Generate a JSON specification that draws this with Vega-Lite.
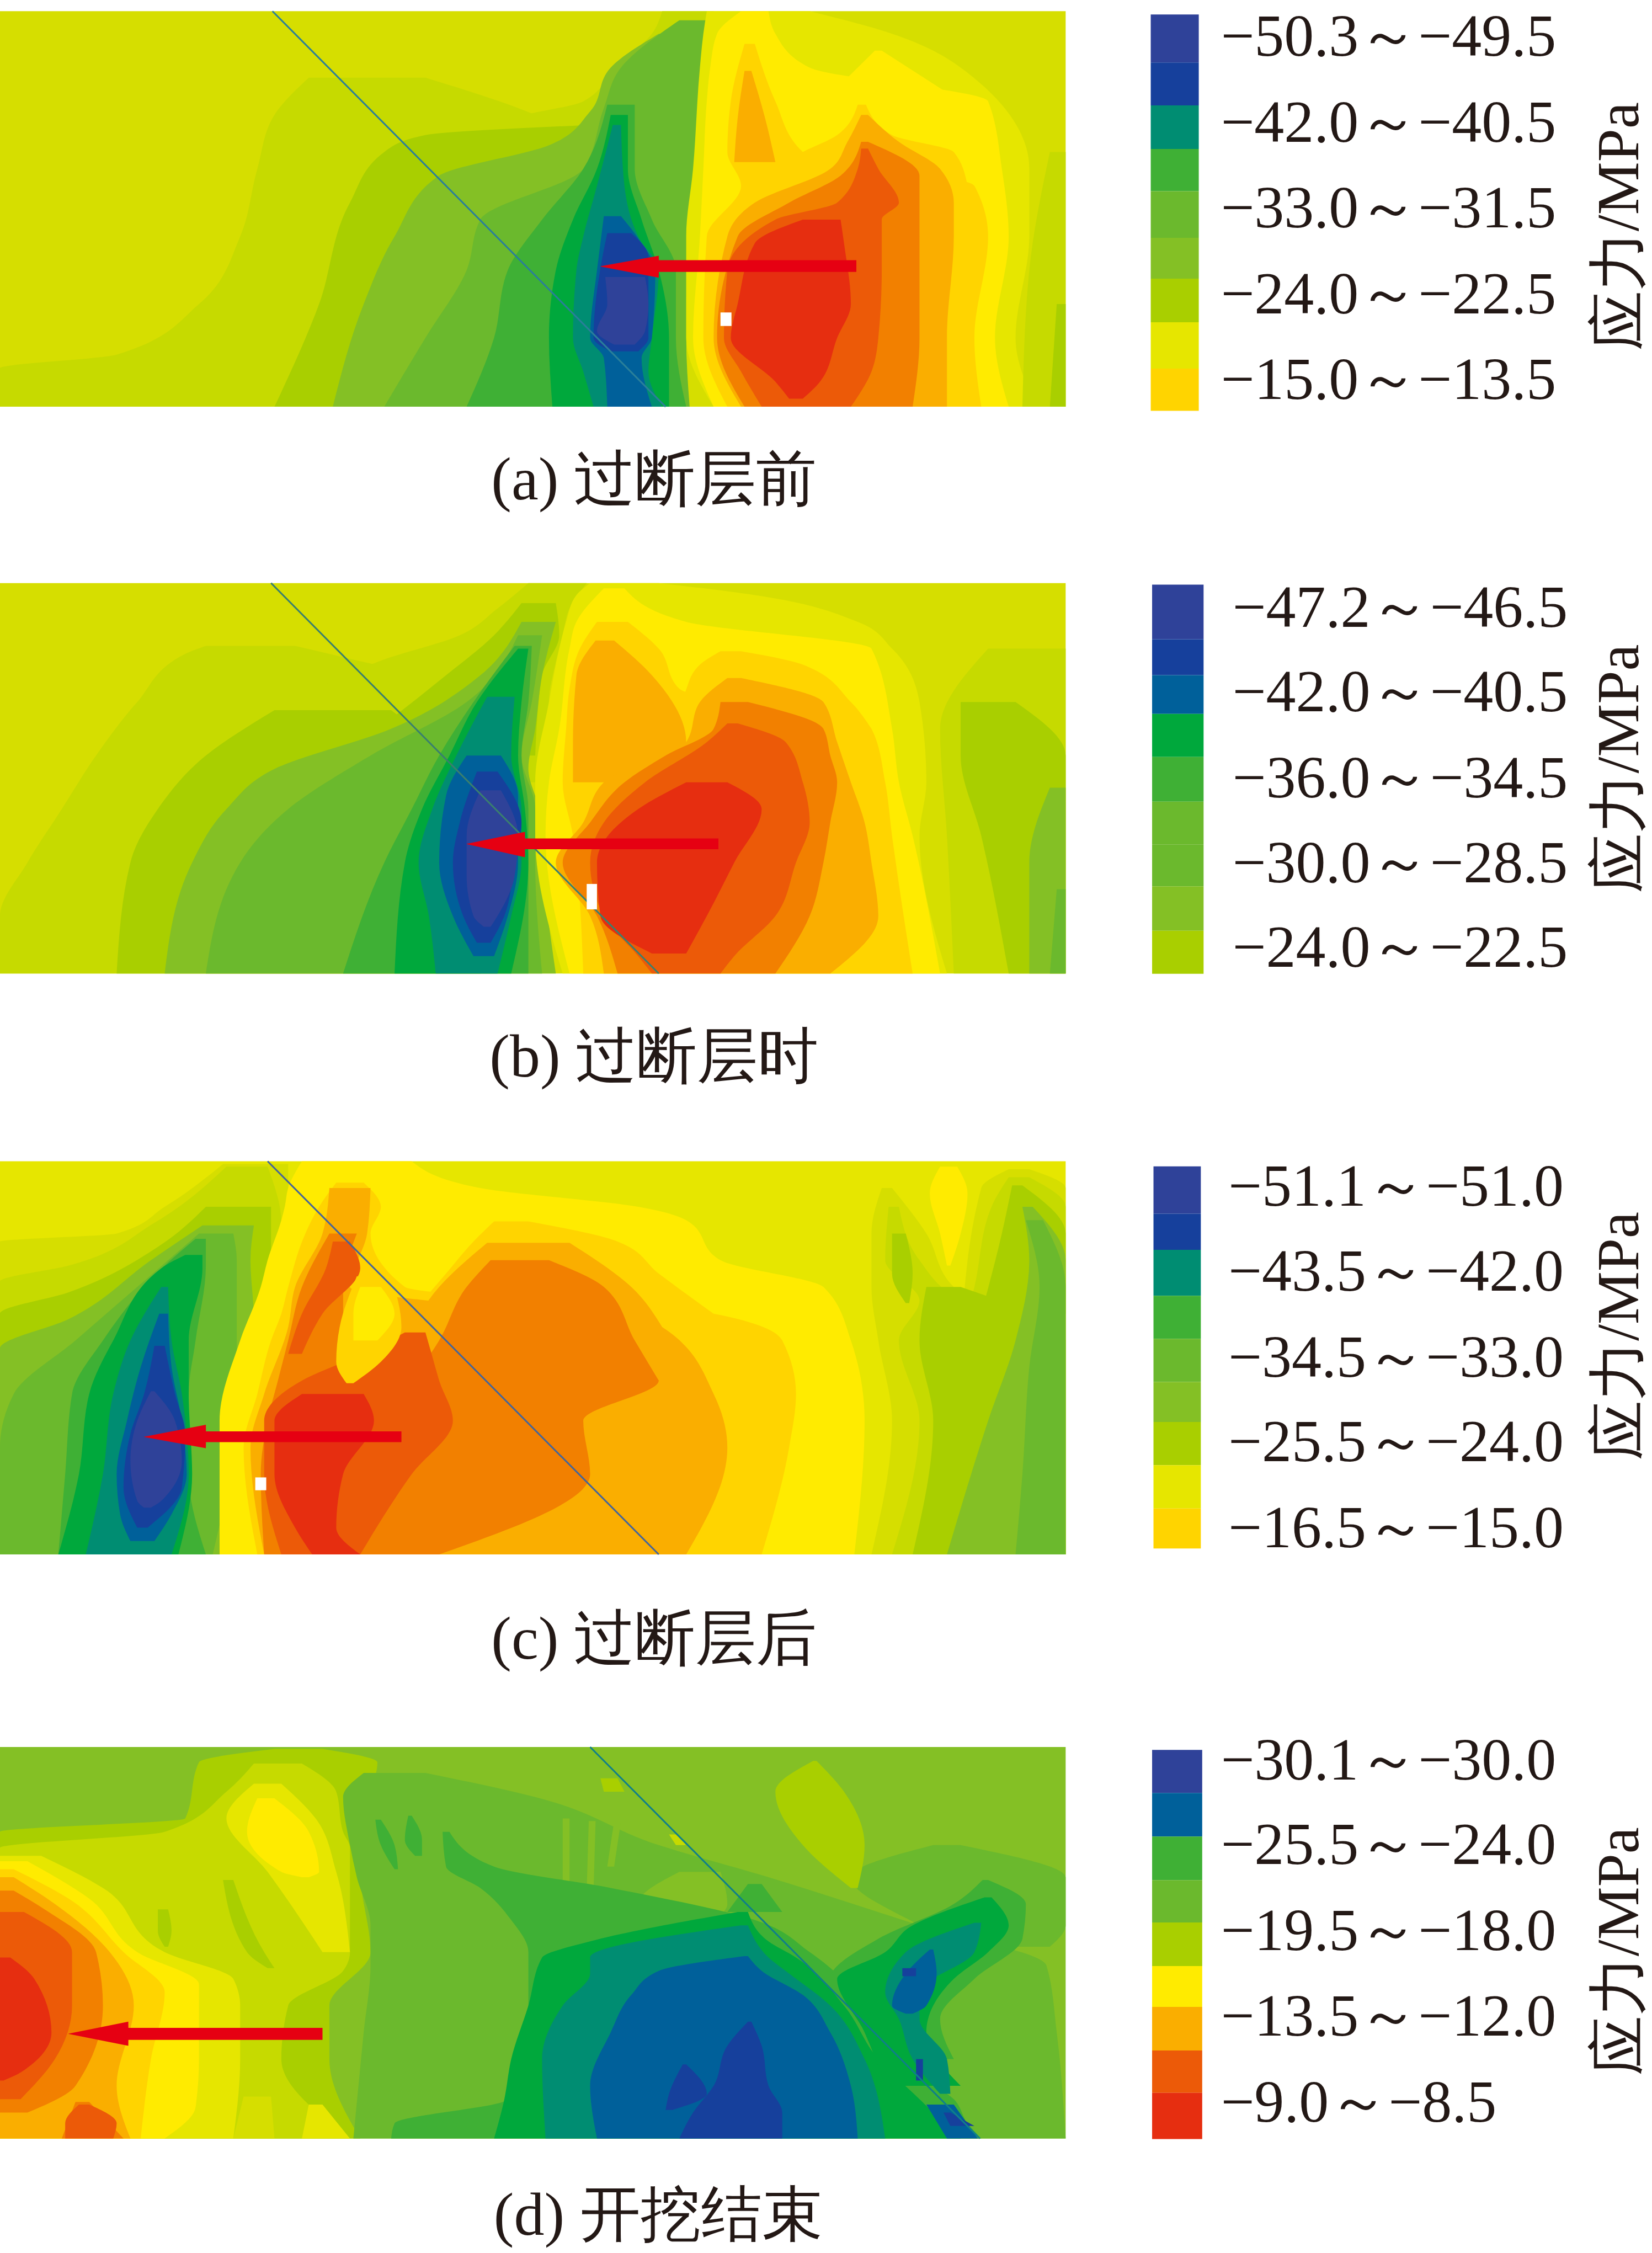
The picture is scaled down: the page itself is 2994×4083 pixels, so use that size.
{"$schema":"https://vega.github.io/schema/vega-lite/v6.json","padding":0,"background":"white","bounds":"flush","spacing":0,"resolve":{"scale":{"color":"shared"}},
"config":{"view":{"stroke":null},"axis":{"disable":true},"legend":{"disable":true},"range":{"ordinal":["#2F4299","#16409C","#00609A","#008D72","#00A83C","#3FB035","#6BB92D","#84C025","#A9CF00","#C6DA00","#D6DE00","#E6E600","#FFEB00","#FFD400","#FAAE00","#F28000","#EC5A08","#E62E10"]}},
"datasets":{
"a":[
{"b":1,"s":10,"y":33,"x":0,"x2":1553},{"b":1,"s":10,"y":1204,"x":0,"x2":1553},
{"b":2,"s":9,"y":230,"x":450,"x2":620},{"b":2,"s":9,"y":340,"x":400,"x2":780},{"b":2,"s":9,"y":500,"x":375,"x2":900},{"b":2,"s":9,"y":700,"x":350,"x2":950},{"b":2,"s":9,"y":900,"x":290,"x2":950},{"b":2,"s":9,"y":1050,"x":170,"x2":950},{"b":2,"s":9,"y":1090,"x":0,"x2":950},{"b":2,"s":9,"y":1204,"x":0,"x2":950},
{"b":3,"s":9,"y":33,"x":965,"x2":1040},{"b":3,"s":9,"y":100,"x":950,"x2":1040},{"b":3,"s":9,"y":190,"x":900,"x2":1040},{"b":3,"s":9,"y":300,"x":850,"x2":1040},{"b":3,"s":9,"y":360,"x":740,"x2":1040},{"b":3,"s":9,"y":700,"x":740,"x2":1040},
{"b":4,"s":8,"y":370,"x":860,"x2":900},{"b":4,"s":8,"y":400,"x":620,"x2":905},{"b":4,"s":8,"y":450,"x":560,"x2":910},{"b":4,"s":8,"y":600,"x":510,"x2":900},{"b":4,"s":8,"y":900,"x":465,"x2":900},{"b":4,"s":8,"y":1204,"x":400,"x2":900},
{"b":5,"s":7,"y":100,"x":960,"x2":1035},{"b":5,"s":7,"y":200,"x":890,"x2":1035},{"b":5,"s":7,"y":330,"x":860,"x2":1030},{"b":5,"s":7,"y":430,"x":800,"x2":1030},{"b":5,"s":7,"y":520,"x":640,"x2":1030},{"b":5,"s":7,"y":700,"x":575,"x2":1010},{"b":5,"s":7,"y":900,"x":530,"x2":1000},{"b":5,"s":7,"y":1204,"x":485,"x2":1000},
{"b":6,"s":6,"y":60,"x":990,"x2":1030},{"b":6,"s":6,"y":200,"x":905,"x2":1030},{"b":6,"s":6,"y":320,"x":880,"x2":1025},{"b":6,"s":6,"y":500,"x":850,"x2":1020},{"b":6,"s":6,"y":650,"x":700,"x2":1010},{"b":6,"s":6,"y":800,"x":680,"x2":1000},{"b":6,"s":6,"y":1000,"x":620,"x2":1000},{"b":6,"s":6,"y":1204,"x":560,"x2":1005},
{"b":7,"s":5,"y":310,"x":885,"x2":925},{"b":7,"s":5,"y":500,"x":850,"x2":925},{"b":7,"s":5,"y":650,"x":790,"x2":950},{"b":7,"s":5,"y":800,"x":740,"x2":985},{"b":7,"s":5,"y":1000,"x":720,"x2":985},{"b":7,"s":5,"y":1204,"x":680,"x2":1000},
{"b":8,"s":4,"y":340,"x":890,"x2":915},{"b":8,"s":4,"y":500,"x":870,"x2":915},{"b":8,"s":4,"y":650,"x":835,"x2":935},{"b":8,"s":4,"y":800,"x":810,"x2":960},{"b":8,"s":4,"y":1000,"x":800,"x2":975},{"b":8,"s":4,"y":1204,"x":805,"x2":975},
{"b":9,"s":3,"y":370,"x":893,"x2":905},{"b":9,"s":3,"y":550,"x":870,"x2":910},{"b":9,"s":3,"y":700,"x":850,"x2":930},{"b":9,"s":3,"y":800,"x":840,"x2":960},{"b":9,"s":3,"y":1000,"x":835,"x2":950},{"b":9,"s":3,"y":1100,"x":850,"x2":945},{"b":9,"s":3,"y":1204,"x":865,"x2":965},
{"b":10,"s":2,"y":640,"x":880,"x2":905},{"b":10,"s":2,"y":720,"x":875,"x2":935},{"b":10,"s":2,"y":800,"x":870,"x2":955},{"b":10,"s":2,"y":1000,"x":860,"x2":950},{"b":10,"s":2,"y":1060,"x":880,"x2":935},{"b":10,"s":2,"y":1204,"x":885,"x2":950},
{"b":11,"s":1,"y":690,"x":885,"x2":920},{"b":11,"s":1,"y":760,"x":878,"x2":945},{"b":11,"s":1,"y":1000,"x":865,"x2":945},{"b":11,"s":1,"y":1040,"x":890,"x2":930},
{"b":12,"s":0,"y":820,"x":882,"x2":940},{"b":12,"s":0,"y":900,"x":885,"x2":945},{"b":12,"s":0,"y":980,"x":870,"x2":940},{"b":12,"s":0,"y":1020,"x":895,"x2":925},
{"b":13,"s":11,"y":33,"x":1030,"x2":1180},{"b":13,"s":11,"y":100,"x":1025,"x2":1300},{"b":13,"s":11,"y":200,"x":1020,"x2":1400},{"b":13,"s":11,"y":500,"x":1010,"x2":1500},{"b":13,"s":11,"y":700,"x":1000,"x2":1500},{"b":13,"s":11,"y":1000,"x":1000,"x2":1480},{"b":13,"s":11,"y":1204,"x":1040,"x2":1510},
{"b":14,"s":9,"y":450,"x":1530,"x2":1553},{"b":14,"s":9,"y":800,"x":1500,"x2":1553},{"b":14,"s":9,"y":1204,"x":1490,"x2":1553},
{"b":15,"s":8,"y":900,"x":1540,"x2":1553},{"b":15,"s":8,"y":1204,"x":1530,"x2":1553},
{"b":16,"s":12,"y":33,"x":1080,"x2":1120},{"b":16,"s":12,"y":100,"x":1045,"x2":1130},{"b":16,"s":12,"y":200,"x":1035,"x2":1180},{"b":16,"s":12,"y":300,"x":1030,"x2":1440},{"b":16,"s":12,"y":500,"x":1025,"x2":1460},{"b":16,"s":12,"y":700,"x":1020,"x2":1470},{"b":16,"s":12,"y":1000,"x":1010,"x2":1450},{"b":16,"s":12,"y":1204,"x":1040,"x2":1470},
{"b":17,"s":12,"y":150,"x":1275,"x2":1285},{"b":17,"s":12,"y":300,"x":1200,"x2":1400},
{"b":18,"s":13,"y":130,"x":1085,"x2":1100},{"b":18,"s":13,"y":300,"x":1065,"x2":1130},{"b":18,"s":13,"y":450,"x":1060,"x2":1170},{"b":18,"s":13,"y":550,"x":1080,"x2":1420},{"b":18,"s":13,"y":700,"x":1030,"x2":1440},{"b":18,"s":13,"y":1000,"x":1025,"x2":1420},{"b":18,"s":13,"y":1204,"x":1060,"x2":1430},
{"b":19,"s":13,"y":310,"x":1250,"x2":1262},{"b":19,"s":13,"y":400,"x":1220,"x2":1300},{"b":19,"s":13,"y":450,"x":1170,"x2":1390},{"b":19,"s":13,"y":550,"x":1100,"x2":1410},
{"b":20,"s":14,"y":210,"x":1085,"x2":1095},{"b":20,"s":14,"y":350,"x":1075,"x2":1115},{"b":20,"s":14,"y":480,"x":1070,"x2":1130},
{"b":21,"s":14,"y":340,"x":1255,"x2":1265},{"b":21,"s":14,"y":420,"x":1235,"x2":1310},{"b":21,"s":14,"y":500,"x":1210,"x2":1370},{"b":21,"s":14,"y":600,"x":1100,"x2":1390},{"b":21,"s":14,"y":700,"x":1060,"x2":1390},{"b":21,"s":14,"y":1000,"x":1040,"x2":1380},{"b":21,"s":14,"y":1204,"x":1080,"x2":1380},
{"b":22,"s":15,"y":420,"x":1255,"x2":1265},{"b":22,"s":15,"y":520,"x":1225,"x2":1340},{"b":22,"s":15,"y":600,"x":1150,"x2":1340},{"b":22,"s":15,"y":700,"x":1075,"x2":1340},{"b":22,"s":15,"y":1000,"x":1045,"x2":1340},{"b":22,"s":15,"y":1204,"x":1085,"x2":1330},
{"b":23,"s":16,"y":440,"x":1255,"x2":1265},{"b":23,"s":16,"y":500,"x":1250,"x2":1280},{"b":23,"s":16,"y":600,"x":1220,"x2":1310},{"b":23,"s":16,"y":650,"x":1130,"x2":1285},{"b":23,"s":16,"y":800,"x":1060,"x2":1285},{"b":23,"s":16,"y":1000,"x":1055,"x2":1280},{"b":23,"s":16,"y":1100,"x":1080,"x2":1270},{"b":23,"s":16,"y":1204,"x":1110,"x2":1240},
{"b":24,"s":17,"y":650,"x":1170,"x2":1225},{"b":24,"s":17,"y":720,"x":1100,"x2":1230},{"b":24,"s":17,"y":900,"x":1075,"x2":1240},{"b":24,"s":17,"y":1000,"x":1065,"x2":1220},{"b":24,"s":17,"y":1130,"x":1130,"x2":1195},{"b":24,"s":17,"y":1180,"x":1150,"x2":1170}
],
"b":[
{"b":1,"s":10,"y":55,"x":0,"x2":1553},{"b":1,"s":10,"y":1515,"x":0,"x2":1553},
{"b":2,"s":9,"y":290,"x":300,"x2":430},{"b":2,"s":9,"y":320,"x":270,"x2":480},{"b":2,"s":9,"y":500,"x":200,"x2":700},{"b":2,"s":9,"y":700,"x":140,"x2":700},{"b":2,"s":9,"y":900,"x":90,"x2":700},{"b":2,"s":9,"y":1100,"x":40,"x2":700},{"b":2,"s":9,"y":1300,"x":0,"x2":700},{"b":2,"s":9,"y":1515,"x":0,"x2":700},
{"b":3,"s":9,"y":55,"x":770,"x2":855},{"b":3,"s":9,"y":150,"x":725,"x2":830},{"b":3,"s":9,"y":250,"x":670,"x2":820},{"b":3,"s":9,"y":350,"x":550,"x2":810},{"b":3,"s":9,"y":500,"x":450,"x2":800},{"b":3,"s":9,"y":800,"x":450,"x2":800},
{"b":4,"s":8,"y":530,"x":400,"x2":570},{"b":4,"s":8,"y":700,"x":300,"x2":650},{"b":4,"s":8,"y":900,"x":230,"x2":700},{"b":4,"s":8,"y":1100,"x":190,"x2":700},{"b":4,"s":8,"y":1515,"x":170,"x2":700},
{"b":5,"s":8,"y":130,"x":760,"x2":810},{"b":5,"s":8,"y":250,"x":720,"x2":815},{"b":5,"s":8,"y":400,"x":650,"x2":790},{"b":5,"s":8,"y":700,"x":500,"x2":780},
{"b":6,"s":7,"y":200,"x":760,"x2":810},{"b":6,"s":7,"y":400,"x":700,"x2":790},{"b":6,"s":7,"y":600,"x":570,"x2":780},{"b":6,"s":7,"y":750,"x":400,"x2":770},{"b":6,"s":7,"y":900,"x":330,"x2":785},{"b":6,"s":7,"y":1100,"x":280,"x2":790},{"b":6,"s":7,"y":1515,"x":240,"x2":810},
{"b":7,"s":6,"y":250,"x":755,"x2":790},{"b":7,"s":6,"y":500,"x":680,"x2":775},{"b":7,"s":6,"y":700,"x":540,"x2":760},{"b":7,"s":6,"y":900,"x":420,"x2":780},{"b":7,"s":6,"y":1100,"x":350,"x2":780},{"b":7,"s":6,"y":1515,"x":300,"x2":790},
{"b":8,"s":5,"y":290,"x":750,"x2":775},{"b":8,"s":5,"y":500,"x":690,"x2":770},{"b":8,"s":5,"y":700,"x":640,"x2":760},{"b":8,"s":5,"y":900,"x":600,"x2":770},{"b":8,"s":5,"y":1100,"x":560,"x2":770},{"b":8,"s":5,"y":1515,"x":500,"x2":770},
{"b":9,"s":4,"y":300,"x":755,"x2":770},{"b":9,"s":4,"y":500,"x":695,"x2":760},{"b":9,"s":4,"y":700,"x":655,"x2":755},{"b":9,"s":4,"y":900,"x":615,"x2":765},{"b":9,"s":4,"y":1100,"x":590,"x2":770},{"b":9,"s":4,"y":1515,"x":575,"x2":745},
{"b":10,"s":3,"y":480,"x":710,"x2":750},{"b":10,"s":3,"y":700,"x":665,"x2":745},{"b":10,"s":3,"y":900,"x":630,"x2":760},{"b":10,"s":3,"y":1100,"x":610,"x2":760},{"b":10,"s":3,"y":1300,"x":625,"x2":745},{"b":10,"s":3,"y":1515,"x":635,"x2":725},
{"b":11,"s":2,"y":700,"x":680,"x2":730},{"b":11,"s":2,"y":850,"x":650,"x2":755},{"b":11,"s":2,"y":1100,"x":640,"x2":755},{"b":11,"s":2,"y":1300,"x":660,"x2":740},{"b":11,"s":2,"y":1450,"x":690,"x2":720},
{"b":12,"s":1,"y":760,"x":695,"x2":725},{"b":12,"s":1,"y":950,"x":670,"x2":760},{"b":12,"s":1,"y":1100,"x":660,"x2":750},{"b":12,"s":1,"y":1300,"x":675,"x2":735},{"b":12,"s":1,"y":1400,"x":695,"x2":715},
{"b":13,"s":0,"y":830,"x":700,"x2":730},{"b":13,"s":0,"y":1000,"x":680,"x2":755},{"b":13,"s":0,"y":1150,"x":680,"x2":750},{"b":13,"s":0,"y":1300,"x":690,"x2":725},{"b":13,"s":0,"y":1340,"x":705,"x2":715},
{"b":14,"s":11,"y":55,"x":860,"x2":960},{"b":14,"s":11,"y":100,"x":840,"x2":1100},{"b":14,"s":11,"y":200,"x":825,"x2":1250},{"b":14,"s":11,"y":300,"x":815,"x2":1300},{"b":14,"s":11,"y":500,"x":800,"x2":1340},{"b":14,"s":11,"y":800,"x":780,"x2":1350},{"b":14,"s":11,"y":1000,"x":780,"x2":1340},{"b":14,"s":11,"y":1515,"x":820,"x2":1380},
{"b":15,"s":9,"y":300,"x":1440,"x2":1553},{"b":15,"s":9,"y":600,"x":1370,"x2":1553},{"b":15,"s":9,"y":1000,"x":1380,"x2":1553},{"b":15,"s":9,"y":1515,"x":1390,"x2":1553},
{"b":16,"s":8,"y":500,"x":1400,"x2":1480},{"b":16,"s":8,"y":700,"x":1400,"x2":1553},{"b":16,"s":8,"y":1000,"x":1430,"x2":1553},{"b":16,"s":8,"y":1515,"x":1470,"x2":1553},
{"b":17,"s":7,"y":820,"x":1530,"x2":1553},{"b":17,"s":7,"y":1100,"x":1500,"x2":1553},{"b":17,"s":7,"y":1515,"x":1500,"x2":1553},
{"b":18,"s":6,"y":1200,"x":1540,"x2":1553},{"b":18,"s":6,"y":1515,"x":1530,"x2":1553},
{"b":19,"s":12,"y":75,"x":880,"x2":910},{"b":19,"s":12,"y":200,"x":840,"x2":1000},{"b":19,"s":12,"y":300,"x":830,"x2":1270},{"b":19,"s":12,"y":600,"x":815,"x2":1300},{"b":19,"s":12,"y":800,"x":800,"x2":1310},{"b":19,"s":12,"y":1000,"x":795,"x2":1330},{"b":19,"s":12,"y":1515,"x":830,"x2":1370},
{"b":20,"s":13,"y":200,"x":870,"x2":915},{"b":20,"s":13,"y":300,"x":845,"x2":960},{"b":20,"s":13,"y":450,"x":830,"x2":990},{"b":20,"s":13,"y":600,"x":825,"x2":1270},{"b":20,"s":13,"y":800,"x":820,"x2":1290},{"b":20,"s":13,"y":1000,"x":835,"x2":1300},{"b":20,"s":13,"y":1515,"x":850,"x2":1330},
{"b":21,"s":13,"y":310,"x":1050,"x2":1080},{"b":21,"s":13,"y":360,"x":1020,"x2":1170},{"b":21,"s":13,"y":500,"x":990,"x2":1240},{"b":21,"s":13,"y":600,"x":950,"x2":1270},
{"b":22,"s":14,"y":270,"x":868,"x2":895},{"b":22,"s":14,"y":400,"x":840,"x2":950},{"b":22,"s":14,"y":650,"x":835,"x2":1000},{"b":22,"s":14,"y":800,"x":835,"x2":1000},
{"b":23,"s":14,"y":410,"x":1060,"x2":1080},{"b":23,"s":14,"y":500,"x":1020,"x2":1200},{"b":23,"s":14,"y":650,"x":1000,"x2":1220},{"b":23,"s":14,"y":800,"x":880,"x2":1240},{"b":23,"s":14,"y":950,"x":850,"x2":1260},{"b":23,"s":14,"y":1100,"x":810,"x2":1270},{"b":23,"s":14,"y":1300,"x":860,"x2":1280},{"b":23,"s":14,"y":1515,"x":880,"x2":1210},
{"b":24,"s":15,"y":500,"x":1050,"x2":1090},{"b":24,"s":15,"y":600,"x":1040,"x2":1200},{"b":24,"s":15,"y":700,"x":970,"x2":1210},{"b":24,"s":15,"y":800,"x":910,"x2":1220},{"b":24,"s":15,"y":950,"x":860,"x2":1210},{"b":24,"s":15,"y":1100,"x":820,"x2":1200},{"b":24,"s":15,"y":1300,"x":870,"x2":1180},{"b":24,"s":15,"y":1515,"x":900,"x2":1130},
{"b":25,"s":16,"y":580,"x":1060,"x2":1075},{"b":25,"s":16,"y":650,"x":1030,"x2":1145},{"b":25,"s":16,"y":800,"x":940,"x2":1170},{"b":25,"s":16,"y":950,"x":880,"x2":1180},{"b":25,"s":16,"y":1100,"x":860,"x2":1160},{"b":25,"s":16,"y":1300,"x":880,"x2":1130},{"b":25,"s":16,"y":1450,"x":930,"x2":1070},{"b":25,"s":16,"y":1515,"x":950,"x2":1050},
{"b":26,"s":17,"y":800,"x":1000,"x2":1060},{"b":26,"s":17,"y":900,"x":930,"x2":1110},{"b":26,"s":17,"y":1100,"x":870,"x2":1070},{"b":26,"s":17,"y":1300,"x":875,"x2":1030},{"b":26,"s":17,"y":1440,"x":950,"x2":1000}
],
"c":[
{"b":1,"s":11,"y":30,"x":0,"x2":1553},{"b":1,"s":11,"y":1500,"x":0,"x2":1553},
{"b":2,"s":10,"y":40,"x":325,"x2":420},{"b":2,"s":10,"y":200,"x":240,"x2":420},{"b":2,"s":10,"y":300,"x":170,"x2":420},{"b":2,"s":10,"y":330,"x":0,"x2":410},{"b":2,"s":10,"y":1500,"x":0,"x2":360},
{"b":3,"s":9,"y":50,"x":330,"x2":390},{"b":3,"s":9,"y":260,"x":225,"x2":410},{"b":3,"s":9,"y":420,"x":100,"x2":400},{"b":3,"s":9,"y":480,"x":0,"x2":390},{"b":3,"s":9,"y":1500,"x":0,"x2":350},
{"b":4,"s":8,"y":200,"x":300,"x2":395},{"b":4,"s":8,"y":350,"x":230,"x2":395},{"b":4,"s":8,"y":520,"x":100,"x2":390},{"b":4,"s":8,"y":600,"x":0,"x2":380},{"b":4,"s":8,"y":1500,"x":0,"x2":340},
{"b":5,"s":7,"y":270,"x":295,"x2":370},{"b":5,"s":7,"y":400,"x":220,"x2":365},{"b":5,"s":7,"y":620,"x":100,"x2":370},{"b":5,"s":7,"y":730,"x":0,"x2":365},{"b":5,"s":7,"y":1000,"x":0,"x2":355},{"b":5,"s":7,"y":1500,"x":0,"x2":320},
{"b":6,"s":6,"y":300,"x":290,"x2":340},{"b":6,"s":6,"y":400,"x":245,"x2":345},{"b":6,"s":6,"y":700,"x":110,"x2":345},{"b":6,"s":6,"y":900,"x":20,"x2":345},{"b":6,"s":6,"y":1100,"x":0,"x2":340},{"b":6,"s":6,"y":1500,"x":0,"x2":310},
{"b":7,"s":5,"y":320,"x":285,"x2":300},{"b":7,"s":5,"y":420,"x":240,"x2":300},{"b":7,"s":5,"y":700,"x":150,"x2":285},{"b":7,"s":5,"y":900,"x":105,"x2":275},{"b":7,"s":5,"y":1200,"x":95,"x2":275},{"b":7,"s":5,"y":1500,"x":85,"x2":300},
{"b":8,"s":4,"y":380,"x":270,"x2":295},{"b":8,"s":4,"y":430,"x":235,"x2":295},{"b":8,"s":4,"y":700,"x":165,"x2":275},{"b":8,"s":4,"y":900,"x":130,"x2":275},{"b":8,"s":4,"y":1200,"x":115,"x2":280},{"b":8,"s":4,"y":1500,"x":85,"x2":260},
{"b":9,"s":3,"y":500,"x":235,"x2":245},{"b":9,"s":3,"y":700,"x":190,"x2":250},{"b":9,"s":3,"y":900,"x":165,"x2":265},{"b":9,"s":3,"y":1200,"x":150,"x2":275},{"b":9,"s":3,"y":1500,"x":125,"x2":250},
{"b":10,"s":2,"y":600,"x":232,"x2":245},{"b":10,"s":2,"y":800,"x":205,"x2":250},{"b":10,"s":2,"y":1000,"x":185,"x2":265},{"b":10,"s":2,"y":1200,"x":170,"x2":272},{"b":10,"s":2,"y":1350,"x":175,"x2":250},{"b":10,"s":2,"y":1450,"x":190,"x2":225},
{"b":11,"s":1,"y":720,"x":225,"x2":240},{"b":11,"s":1,"y":900,"x":210,"x2":255},{"b":11,"s":1,"y":1050,"x":190,"x2":270},{"b":11,"s":1,"y":1250,"x":180,"x2":265},{"b":11,"s":1,"y":1400,"x":200,"x2":215},
{"b":12,"s":0,"y":890,"x":220,"x2":225},{"b":12,"s":0,"y":1000,"x":200,"x2":255},{"b":12,"s":0,"y":1150,"x":190,"x2":265},{"b":12,"s":0,"y":1300,"x":200,"x2":235},{"b":12,"s":0,"y":1325,"x":210,"x2":220},
{"b":13,"s":12,"y":30,"x":440,"x2":600},{"b":13,"s":12,"y":130,"x":420,"x2":700},{"b":13,"s":12,"y":200,"x":415,"x2":930},{"b":13,"s":12,"y":250,"x":410,"x2":1000},{"b":13,"s":12,"y":400,"x":390,"x2":1050},{"b":13,"s":12,"y":500,"x":380,"x2":1200},{"b":13,"s":12,"y":700,"x":350,"x2":1240},{"b":13,"s":12,"y":1000,"x":320,"x2":1260},{"b":13,"s":12,"y":1500,"x":320,"x2":1245},
{"b":14,"s":10,"y":130,"x":1285,"x2":1300},{"b":14,"s":10,"y":300,"x":1270,"x2":1350},{"b":14,"s":10,"y":500,"x":1270,"x2":1390},{"b":14,"s":10,"y":700,"x":1280,"x2":1553},{"b":14,"s":10,"y":1000,"x":1300,"x2":1553},{"b":14,"s":10,"y":1500,"x":1270,"x2":1553},
{"b":15,"s":10,"y":60,"x":1470,"x2":1500},{"b":15,"s":10,"y":130,"x":1430,"x2":1553},{"b":15,"s":10,"y":700,"x":1400,"x2":1553},
{"b":16,"s":12,"y":50,"x":1370,"x2":1395},{"b":16,"s":12,"y":150,"x":1355,"x2":1410},{"b":16,"s":12,"y":300,"x":1370,"x2":1400},{"b":16,"s":12,"y":420,"x":1380,"x2":1385},
{"b":17,"s":9,"y":200,"x":1295,"x2":1310},{"b":17,"s":9,"y":400,"x":1290,"x2":1340},{"b":17,"s":9,"y":550,"x":1340,"x2":1400},{"b":17,"s":9,"y":700,"x":1310,"x2":1553},{"b":17,"s":9,"y":1000,"x":1340,"x2":1553},{"b":17,"s":9,"y":1500,"x":1300,"x2":1553},
{"b":18,"s":9,"y":90,"x":1470,"x2":1500},{"b":18,"s":9,"y":200,"x":1445,"x2":1553},{"b":18,"s":9,"y":500,"x":1420,"x2":1553},{"b":18,"s":9,"y":700,"x":1400,"x2":1553},
{"b":19,"s":8,"y":300,"x":1300,"x2":1320},{"b":19,"s":8,"y":450,"x":1300,"x2":1330},{"b":19,"s":8,"y":560,"x":1320,"x2":1325},
{"b":20,"s":8,"y":500,"x":1350,"x2":1400},{"b":20,"s":8,"y":700,"x":1340,"x2":1553},{"b":20,"s":8,"y":1000,"x":1360,"x2":1553},{"b":20,"s":8,"y":1500,"x":1330,"x2":1553},
{"b":21,"s":8,"y":120,"x":1475,"x2":1490},{"b":21,"s":8,"y":300,"x":1460,"x2":1553},{"b":21,"s":8,"y":600,"x":1430,"x2":1553},
{"b":22,"s":7,"y":200,"x":1490,"x2":1505},{"b":22,"s":7,"y":400,"x":1500,"x2":1553},{"b":22,"s":7,"y":700,"x":1480,"x2":1553},{"b":22,"s":7,"y":1000,"x":1440,"x2":1553},{"b":22,"s":7,"y":1500,"x":1380,"x2":1553},
{"b":23,"s":6,"y":250,"x":1495,"x2":1520},{"b":23,"s":6,"y":500,"x":1515,"x2":1553},{"b":23,"s":6,"y":800,"x":1500,"x2":1553},{"b":23,"s":6,"y":1200,"x":1490,"x2":1553},{"b":23,"s":6,"y":1500,"x":1480,"x2":1553},
{"b":24,"s":13,"y":110,"x":490,"x2":530},{"b":24,"s":13,"y":200,"x":465,"x2":555},{"b":24,"s":13,"y":300,"x":445,"x2":540},{"b":24,"s":13,"y":500,"x":420,"x2":590},{"b":24,"s":13,"y":600,"x":410,"x2":1040},{"b":24,"s":13,"y":700,"x":395,"x2":1140},{"b":24,"s":13,"y":900,"x":375,"x2":1160},{"b":24,"s":13,"y":1100,"x":355,"x2":1150},{"b":24,"s":13,"y":1500,"x":375,"x2":1110},
{"b":25,"s":13,"y":255,"x":720,"x2":770},{"b":25,"s":13,"y":330,"x":690,"x2":900},{"b":25,"s":13,"y":450,"x":650,"x2":960},{"b":25,"s":13,"y":600,"x":600,"x2":1040},
{"b":26,"s":14,"y":130,"x":480,"x2":540},{"b":26,"s":14,"y":300,"x":470,"x2":535},{"b":26,"s":14,"y":500,"x":430,"x2":510},{"b":26,"s":14,"y":650,"x":420,"x2":965},{"b":26,"s":14,"y":900,"x":385,"x2":1040},{"b":26,"s":14,"y":1100,"x":365,"x2":1060},{"b":26,"s":14,"y":1500,"x":385,"x2":1000},
{"b":27,"s":14,"y":335,"x":710,"x2":830},{"b":27,"s":14,"y":500,"x":640,"x2":920},{"b":27,"s":14,"y":650,"x":600,"x2":965},
{"b":28,"s":15,"y":300,"x":480,"x2":520},{"b":28,"s":15,"y":500,"x":440,"x2":500},{"b":28,"s":15,"y":700,"x":420,"x2":500},{"b":28,"s":15,"y":850,"x":405,"x2":960},{"b":28,"s":15,"y":1000,"x":390,"x2":850},{"b":28,"s":15,"y":1200,"x":380,"x2":860},{"b":28,"s":15,"y":1500,"x":385,"x2":640},
{"b":29,"s":15,"y":400,"x":715,"x2":800},{"b":29,"s":15,"y":500,"x":680,"x2":880},{"b":29,"s":15,"y":700,"x":640,"x2":925},{"b":29,"s":15,"y":850,"x":600,"x2":960},
{"b":30,"s":16,"y":670,"x":590,"x2":620},{"b":30,"s":16,"y":760,"x":520,"x2":630},{"b":30,"s":16,"y":850,"x":440,"x2":640},{"b":30,"s":16,"y":1000,"x":385,"x2":660},{"b":30,"s":16,"y":1200,"x":385,"x2":600},{"b":30,"s":16,"y":1500,"x":410,"x2":525},
{"b":31,"s":16,"y":330,"x":485,"x2":510},{"b":31,"s":16,"y":430,"x":475,"x2":525},{"b":31,"s":16,"y":600,"x":440,"x2":470},{"b":31,"s":16,"y":750,"x":420,"x2":440},
{"b":32,"s":17,"y":900,"x":440,"x2":530},{"b":32,"s":17,"y":1000,"x":400,"x2":545},{"b":32,"s":17,"y":1200,"x":400,"x2":500},{"b":32,"s":17,"y":1400,"x":430,"x2":490},{"b":32,"s":17,"y":1500,"x":455,"x2":525},
{"b":33,"s":13,"y":460,"x":520,"x2":570},{"b":33,"s":13,"y":650,"x":495,"x2":585},{"b":33,"s":13,"y":780,"x":490,"x2":555},{"b":33,"s":13,"y":860,"x":505,"x2":515},
{"b":34,"s":12,"y":500,"x":525,"x2":555},{"b":34,"s":12,"y":600,"x":515,"x2":575},{"b":34,"s":12,"y":700,"x":515,"x2":550}
],
"d":[
{"b":1,"s":7,"y":33,"x":0,"x2":1553},{"b":1,"s":7,"y":1497,"x":0,"x2":1553},
{"b":2,"s":8,"y":40,"x":400,"x2":470},{"b":2,"s":8,"y":90,"x":290,"x2":550},{"b":2,"s":8,"y":300,"x":270,"x2":530},{"b":2,"s":8,"y":350,"x":0,"x2":530},{"b":2,"s":8,"y":500,"x":0,"x2":525},{"b":2,"s":8,"y":800,"x":0,"x2":540},{"b":2,"s":8,"y":1000,"x":0,"x2":480},{"b":2,"s":8,"y":1200,"x":0,"x2":480},{"b":2,"s":8,"y":1497,"x":0,"x2":525},
{"b":3,"s":9,"y":95,"x":370,"x2":440},{"b":3,"s":9,"y":200,"x":330,"x2":490},{"b":3,"s":9,"y":350,"x":240,"x2":500},{"b":3,"s":9,"y":410,"x":0,"x2":510},{"b":3,"s":9,"y":800,"x":0,"x2":510},{"b":3,"s":9,"y":870,"x":0,"x2":500},{"b":3,"s":9,"y":1000,"x":0,"x2":420},{"b":3,"s":9,"y":1200,"x":0,"x2":410},{"b":3,"s":9,"y":1497,"x":0,"x2":510},
{"b":4,"s":8,"y":640,"x":230,"x2":245},{"b":4,"s":8,"y":720,"x":230,"x2":250},{"b":4,"s":8,"y":780,"x":240,"x2":245},
{"b":5,"s":8,"y":530,"x":325,"x2":340},{"b":5,"s":8,"y":800,"x":360,"x2":385},{"b":5,"s":8,"y":860,"x":390,"x2":400},
{"b":6,"s":11,"y":170,"x":370,"x2":410},{"b":6,"s":11,"y":300,"x":330,"x2":460},{"b":6,"s":11,"y":500,"x":390,"x2":490},{"b":6,"s":11,"y":800,"x":470,"x2":510},
{"b":7,"s":11,"y":440,"x":0,"x2":60},{"b":7,"s":11,"y":560,"x":0,"x2":150},{"b":7,"s":11,"y":800,"x":0,"x2":240},{"b":7,"s":11,"y":900,"x":0,"x2":340},{"b":7,"s":11,"y":1000,"x":0,"x2":350},{"b":7,"s":11,"y":1200,"x":0,"x2":350},{"b":7,"s":11,"y":1497,"x":0,"x2":340},
{"b":8,"s":10,"y":1340,"x":355,"x2":395},{"b":8,"s":10,"y":1497,"x":340,"x2":400},
{"b":9,"s":11,"y":1370,"x":450,"x2":470},{"b":9,"s":11,"y":1497,"x":440,"x2":510},
{"b":10,"s":12,"y":225,"x":375,"x2":400},{"b":10,"s":12,"y":350,"x":360,"x2":450},{"b":10,"s":12,"y":500,"x":410,"x2":465},{"b":10,"s":12,"y":520,"x":440,"x2":450},
{"b":11,"s":12,"y":460,"x":0,"x2":40},{"b":11,"s":12,"y":600,"x":0,"x2":130},{"b":11,"s":12,"y":800,"x":0,"x2":200},{"b":11,"s":12,"y":920,"x":0,"x2":290},{"b":11,"s":12,"y":1200,"x":0,"x2":290},{"b":11,"s":12,"y":1380,"x":0,"x2":285},{"b":11,"s":12,"y":1497,"x":0,"x2":240},
{"b":12,"s":13,"y":490,"x":0,"x2":20},{"b":12,"s":13,"y":600,"x":0,"x2":100},{"b":12,"s":13,"y":800,"x":0,"x2":180},{"b":12,"s":13,"y":950,"x":0,"x2":240},{"b":12,"s":13,"y":1200,"x":0,"x2":220},{"b":12,"s":13,"y":1497,"x":0,"x2":205},
{"b":13,"s":14,"y":520,"x":0,"x2":20},{"b":13,"s":14,"y":620,"x":0,"x2":80},{"b":13,"s":14,"y":800,"x":0,"x2":160},{"b":13,"s":14,"y":1000,"x":0,"x2":195},{"b":13,"s":14,"y":1300,"x":0,"x2":170},{"b":13,"s":14,"y":1497,"x":0,"x2":190},
{"b":14,"s":15,"y":570,"x":0,"x2":20},{"b":14,"s":15,"y":640,"x":0,"x2":65},{"b":14,"s":15,"y":800,"x":0,"x2":140},{"b":14,"s":15,"y":1000,"x":0,"x2":150},{"b":14,"s":15,"y":1300,"x":0,"x2":110},{"b":14,"s":15,"y":1400,"x":0,"x2":40},
{"b":15,"s":15,"y":1360,"x":110,"x2":130},{"b":15,"s":15,"y":1497,"x":90,"x2":180},
{"b":16,"s":16,"y":650,"x":0,"x2":35},{"b":16,"s":16,"y":800,"x":0,"x2":105},{"b":16,"s":16,"y":1000,"x":0,"x2":105},{"b":16,"s":16,"y":1200,"x":0,"x2":80},{"b":16,"s":16,"y":1350,"x":0,"x2":30},
{"b":17,"s":16,"y":1370,"x":115,"x2":130},{"b":17,"s":16,"y":1440,"x":95,"x2":170},{"b":17,"s":16,"y":1497,"x":95,"x2":165},
{"b":18,"s":17,"y":820,"x":0,"x2":15},{"b":18,"s":17,"y":900,"x":0,"x2":50},{"b":18,"s":17,"y":1100,"x":0,"x2":75},{"b":18,"s":17,"y":1250,"x":0,"x2":30},{"b":18,"s":17,"y":1280,"x":0,"x2":5},
{"b":19,"s":6,"y":130,"x":530,"x2":620},{"b":19,"s":6,"y":220,"x":500,"x2":780},{"b":19,"s":6,"y":400,"x":510,"x2":960},{"b":19,"s":6,"y":520,"x":520,"x2":1120},{"b":19,"s":6,"y":700,"x":540,"x2":1340},{"b":19,"s":6,"y":850,"x":540,"x2":1525},{"b":19,"s":6,"y":1100,"x":530,"x2":1540},{"b":19,"s":6,"y":1497,"x":515,"x2":1553},
{"b":20,"s":6,"y":400,"x":1360,"x2":1400},{"b":20,"s":6,"y":520,"x":1240,"x2":1553},{"b":20,"s":6,"y":700,"x":1340,"x2":1553},{"b":20,"s":6,"y":780,"x":1400,"x2":1530},
{"b":21,"s":7,"y":500,"x":990,"x2":1050},{"b":21,"s":7,"y":620,"x":930,"x2":1060},{"b":21,"s":7,"y":700,"x":1000,"x2":1030},
{"b":22,"s":7,"y":300,"x":820,"x2":830},{"b":22,"s":7,"y":560,"x":820,"x2":830},
{"b":23,"s":7,"y":310,"x":858,"x2":868},{"b":23,"s":7,"y":570,"x":855,"x2":865},
{"b":24,"s":7,"y":310,"x":895,"x2":905},{"b":24,"s":7,"y":480,"x":885,"x2":895},
{"b":25,"s":8,"y":85,"x":1185,"x2":1190},{"b":25,"s":8,"y":200,"x":1130,"x2":1230},{"b":25,"s":8,"y":400,"x":1170,"x2":1260},{"b":25,"s":8,"y":560,"x":1240,"x2":1250},
{"b":26,"s":8,"y":150,"x":875,"x2":900},{"b":26,"s":8,"y":200,"x":880,"x2":910},
{"b":27,"s":9,"y":360,"x":975,"x2":985},{"b":27,"s":9,"y":400,"x":985,"x2":1000},
{"b":28,"s":5,"y":350,"x":645,"x2":655},{"b":28,"s":5,"y":480,"x":650,"x2":720},{"b":28,"s":5,"y":560,"x":700,"x2":890},{"b":28,"s":5,"y":680,"x":745,"x2":1100},{"b":28,"s":5,"y":800,"x":770,"x2":1180},{"b":28,"s":5,"y":1000,"x":770,"x2":1260},{"b":28,"s":5,"y":1200,"x":750,"x2":1290},{"b":28,"s":5,"y":1350,"x":740,"x2":1390},{"b":28,"s":5,"y":1440,"x":575,"x2":1410},{"b":28,"s":5,"y":1497,"x":570,"x2":1430},
{"b":29,"s":5,"y":530,"x":1432,"x2":1440},{"b":29,"s":5,"y":620,"x":1390,"x2":1495},{"b":29,"s":5,"y":750,"x":1280,"x2":1490},{"b":29,"s":5,"y":900,"x":1210,"x2":1420},{"b":29,"s":5,"y":1050,"x":1230,"x2":1370},{"b":29,"s":5,"y":1200,"x":1270,"x2":1390},
{"b":30,"s":5,"y":545,"x":1090,"x2":1110},{"b":30,"s":5,"y":650,"x":1060,"x2":1140},
{"b":31,"s":5,"y":305,"x":547,"x2":555},{"b":31,"s":5,"y":400,"x":555,"x2":575},{"b":31,"s":5,"y":490,"x":575,"x2":580},
{"b":32,"s":5,"y":290,"x":595,"x2":600},{"b":32,"s":5,"y":380,"x":590,"x2":615},{"b":32,"s":5,"y":440,"x":605,"x2":615},
{"b":33,"s":4,"y":650,"x":1075,"x2":1090},{"b":33,"s":4,"y":760,"x":860,"x2":1120},{"b":33,"s":4,"y":820,"x":790,"x2":1160},{"b":33,"s":4,"y":1000,"x":770,"x2":1230},{"b":33,"s":4,"y":1200,"x":745,"x2":1280},{"b":33,"s":4,"y":1350,"x":735,"x2":1340},{"b":33,"s":4,"y":1497,"x":720,"x2":1400},
{"b":34,"s":4,"y":595,"x":1435,"x2":1445},{"b":34,"s":4,"y":700,"x":1330,"x2":1470},{"b":34,"s":4,"y":800,"x":1290,"x2":1440},{"b":34,"s":4,"y":900,"x":1220,"x2":1390},{"b":34,"s":4,"y":1100,"x":1260,"x2":1350},{"b":34,"s":4,"y":1300,"x":1290,"x2":1400},
{"b":35,"s":3,"y":700,"x":1080,"x2":1090},{"b":35,"s":3,"y":820,"x":860,"x2":1120},{"b":35,"s":3,"y":880,"x":860,"x2":1150},{"b":35,"s":3,"y":1000,"x":820,"x2":1210},{"b":35,"s":3,"y":1200,"x":790,"x2":1260},{"b":35,"s":3,"y":1497,"x":795,"x2":1290},
{"b":36,"s":3,"y":690,"x":1420,"x2":1430},{"b":36,"s":3,"y":800,"x":1320,"x2":1420},{"b":36,"s":3,"y":950,"x":1290,"x2":1340},{"b":36,"s":3,"y":1050,"x":1310,"x2":1340},{"b":36,"s":3,"y":1200,"x":1330,"x2":1380},{"b":36,"s":3,"y":1330,"x":1370,"x2":1385},
{"b":37,"s":2,"y":815,"x":1085,"x2":1090},{"b":37,"s":2,"y":870,"x":960,"x2":1110},{"b":37,"s":2,"y":960,"x":920,"x2":1170},{"b":37,"s":2,"y":1100,"x":890,"x2":1210},{"b":37,"s":2,"y":1300,"x":860,"x2":1240},{"b":37,"s":2,"y":1497,"x":870,"x2":1250},
{"b":38,"s":2,"y":790,"x":1355,"x2":1360},{"b":38,"s":2,"y":880,"x":1320,"x2":1365},{"b":38,"s":2,"y":1000,"x":1300,"x2":1350},{"b":38,"s":2,"y":1030,"x":1320,"x2":1330},
{"b":39,"s":2,"y":1370,"x":1350,"x2":1390},{"b":39,"s":2,"y":1497,"x":1380,"x2":1425},
{"b":40,"s":1,"y":1060,"x":1090,"x2":1095},{"b":40,"s":1,"y":1150,"x":1060,"x2":1110},{"b":40,"s":1,"y":1300,"x":1040,"x2":1120},{"b":40,"s":1,"y":1400,"x":1010,"x2":1140},{"b":40,"s":1,"y":1497,"x":990,"x2":1140},
{"b":41,"s":1,"y":1220,"x":995,"x2":1000},{"b":41,"s":1,"y":1330,"x":975,"x2":1030},{"b":41,"s":1,"y":1390,"x":970,"x2":980},
{"b":42,"s":1,"y":1400,"x":1375,"x2":1385},{"b":42,"s":1,"y":1450,"x":1385,"x2":1420},
{"b":43,"s":1,"y":1200,"x":1335,"x2":1345},{"b":43,"s":1,"y":1280,"x":1335,"x2":1345},
{"b":44,"s":1,"y":860,"x":1315,"x2":1335},{"b":44,"s":1,"y":890,"x":1315,"x2":1335}
]
},
"vconcat":[
{"width":2994,"height":1030,"layer":[
{"data":{"name":"a"},"mark":{"type":"area","orient":"horizontal","interpolate":"monotone"},"encoding":{"x":{"field":"x","type":"quantitative","scale":{"domain":[0,2407.5]}},"x2":{"field":"x2"},"y":{"field":"y","type":"quantitative","scale":{"domain":[0,1682.5],"reverse":true}},"detail":{"field":"b"},"color":{"field":"s","type":"ordinal"}}},
{"data":{"values":[{"x":397,"x2":970,"y":33,"y2":1204}]},"mark":{"type":"rule","color":"#2A7F9A","strokeWidth":3},"encoding":{"x":{"field":"x","type":"quantitative","scale":{"domain":[0,2407.5]}},"x2":{"field":"x2"},"y":{"field":"y","type":"quantitative","scale":{"domain":[0,1682.5],"reverse":true}},"y2":{"field":"y2"}}},
{"data":{"values":[{"x":875,"y":788,"y2":789},{"x":960,"y":757,"y2":822},{"x":960.1,"y":770,"y2":805},{"x":1248,"y":770,"y2":805}]},"mark":{"type":"area","color":"#E60012"},"encoding":{"x":{"field":"x","type":"quantitative","scale":{"domain":[0,2407.5]}},"y":{"field":"y","type":"quantitative","scale":{"domain":[0,1682.5],"reverse":true}},"y2":{"field":"y2"}}},
{"data":{"values":[{"x":1050,"x2":1066,"y":925,"y2":965}]},"mark":{"type":"rect","color":"white"},"encoding":{"x":{"field":"x","type":"quantitative","scale":{"domain":[0,2407.5]}},"x2":{"field":"x2"},"y":{"field":"y","type":"quantitative","scale":{"domain":[0,1682.5],"reverse":true}},"y2":{"field":"y2"}}},
{"data":{"values":[{"y":43,"y2":185,"s":0},{"y":185,"y2":312,"s":1},{"y":312,"y2":441,"s":3},{"y":441,"y2":566,"s":5},{"y":566,"y2":704,"s":6},{"y":704,"y2":825,"s":7},{"y":825,"y2":954,"s":8},{"y":954,"y2":1091,"s":11},{"y":1091,"y2":1216,"s":13}]},"mark":{"type":"rect"},"encoding":{"x":{"datum":1677,"type":"quantitative","scale":{"domain":[0,2407.5]}},"x2":{"datum":1747},"y":{"field":"y","type":"quantitative","scale":{"domain":[0,1682.5],"reverse":true}},"y2":{"field":"y2"},"color":{"field":"s","type":"ordinal"}}},
{"data":{"values":[{"t":"−50.3～−49.5","y":112},{"t":"−42.0～−40.5","y":367},{"t":"−33.0～−31.5","y":621},{"t":"−24.0～−22.5","y":875},{"t":"−15.0～−13.5","y":1129}]},"mark":{"type":"text","font":"Liberation Serif","fontSize":108,"align":"left","baseline":"middle","color":"#231815"},"encoding":{"x":{"datum":1779,"type":"quantitative","scale":{"domain":[0,2407.5]}},"y":{"field":"y","type":"quantitative","scale":{"domain":[0,1682.5],"reverse":true}},"text":{"field":"t"}}},
{"data":{"values":[{"t":"应力/MPa","y":670}]},"mark":{"type":"text","font":"Liberation Serif","fontSize":108,"angle":270,"align":"center","baseline":"middle","color":"#231815"},"encoding":{"x":{"datum":2362,"type":"quantitative","scale":{"domain":[0,2407.5]}},"y":{"field":"y","type":"quantitative","scale":{"domain":[0,1682.5],"reverse":true}},"text":{"field":"t"}}},
{"data":{"values":[{"t":"(a) 过断层前","y":1425}]},"mark":{"type":"text","font":"Liberation Serif","fontSize":110,"align":"center","baseline":"middle","color":"#231815"},"encoding":{"x":{"datum":953,"type":"quantitative","scale":{"domain":[0,2407.5]}},"y":{"field":"y","type":"quantitative","scale":{"domain":[0,1682.5],"reverse":true}},"text":{"field":"t"}}}
]},
{"width":2994,"height":1060,"layer":[
{"data":{"name":"b"},"mark":{"type":"area","orient":"horizontal","interpolate":"monotone"},"encoding":{"x":{"field":"x","type":"quantitative","scale":{"domain":[0,2407.5]}},"x2":{"field":"x2"},"y":{"field":"y","type":"quantitative","scale":{"domain":[0,2187],"reverse":true}},"detail":{"field":"b"},"color":{"field":"s","type":"ordinal"}}},
{"data":{"values":[{"x":395,"x2":960,"y":55,"y2":1515}]},"mark":{"type":"rule","color":"#3A7F6E","strokeWidth":3},"encoding":{"x":{"field":"x","type":"quantitative","scale":{"domain":[0,2407.5]}},"x2":{"field":"x2"},"y":{"field":"y","type":"quantitative","scale":{"domain":[0,2187],"reverse":true}},"y2":{"field":"y2"}}},
{"data":{"values":[{"x":680,"y":1030,"y2":1031},{"x":765,"y":985,"y2":1080},{"x":765.1,"y":1010,"y2":1050},{"x":1047,"y":1010,"y2":1050}]},"mark":{"type":"area","color":"#E60012"},"encoding":{"x":{"field":"x","type":"quantitative","scale":{"domain":[0,2407.5]}},"y":{"field":"y","type":"quantitative","scale":{"domain":[0,2187],"reverse":true}},"y2":{"field":"y2"}}},
{"data":{"values":[{"x":855,"x2":870,"y":1180,"y2":1275}]},"mark":{"type":"rect","color":"white"},"encoding":{"x":{"field":"x","type":"quantitative","scale":{"domain":[0,2407.5]}},"x2":{"field":"x2"},"y":{"field":"y","type":"quantitative","scale":{"domain":[0,2187],"reverse":true}},"y2":{"field":"y2"}}},
{"data":{"values":[{"y":61,"y2":265,"s":0},{"y":265,"y2":399,"s":1},{"y":399,"y2":544,"s":2},{"y":544,"y2":705,"s":4},{"y":705,"y2":872,"s":5},{"y":872,"y2":1033,"s":6},{"y":1033,"y2":1189,"s":6},{"y":1189,"y2":1355,"s":7},{"y":1355,"y2":1516,"s":8}]},"mark":{"type":"rect"},"encoding":{"x":{"datum":1679,"type":"quantitative","scale":{"domain":[0,2407.5]}},"x2":{"datum":1754},"y":{"field":"y","type":"quantitative","scale":{"domain":[0,2187],"reverse":true}},"y2":{"field":"y2"},"color":{"field":"s","type":"ordinal"}}},
{"data":{"values":[{"t":"−47.2～−46.5","y":153},{"t":"−42.0～−40.5","y":469},{"t":"−36.0～−34.5","y":791},{"t":"−30.0～−28.5","y":1108},{"t":"−24.0～−22.5","y":1424}]},"mark":{"type":"text","font":"Liberation Serif","fontSize":108,"align":"left","baseline":"middle","color":"#231815"},"encoding":{"x":{"datum":1796,"type":"quantitative","scale":{"domain":[0,2407.5]}},"y":{"field":"y","type":"quantitative","scale":{"domain":[0,2187],"reverse":true}},"text":{"field":"t"}}},
{"data":{"values":[{"t":"应力/MPa","y":748}]},"mark":{"type":"text","font":"Liberation Serif","fontSize":108,"angle":270,"align":"center","baseline":"middle","color":"#231815"},"encoding":{"x":{"datum":2362,"type":"quantitative","scale":{"domain":[0,2407.5]}},"y":{"field":"y","type":"quantitative","scale":{"domain":[0,2187],"reverse":true}},"text":{"field":"t"}}},
{"data":{"values":[{"t":"(b) 过断层时","y":1833}]},"mark":{"type":"text","font":"Liberation Serif","fontSize":110,"align":"center","baseline":"middle","color":"#231815"},"encoding":{"x":{"datum":953,"type":"quantitative","scale":{"domain":[0,2407.5]}},"y":{"field":"y","type":"quantitative","scale":{"domain":[0,2187],"reverse":true}},"text":{"field":"t"}}}
]},
{"width":2994,"height":1060,"layer":[
{"data":{"name":"c"},"mark":{"type":"area","orient":"horizontal","interpolate":"monotone"},"encoding":{"x":{"field":"x","type":"quantitative","scale":{"domain":[0,2407.5]}},"x2":{"field":"x2"},"y":{"field":"y","type":"quantitative","scale":{"domain":[0,2187],"reverse":true}},"detail":{"field":"b"},"color":{"field":"s","type":"ordinal"}}},
{"data":{"values":[{"x":390,"x2":960,"y":30,"y2":1500}]},"mark":{"type":"rule","color":"#45659A","strokeWidth":3},"encoding":{"x":{"field":"x","type":"quantitative","scale":{"domain":[0,2407.5]}},"x2":{"field":"x2"},"y":{"field":"y","type":"quantitative","scale":{"domain":[0,2187],"reverse":true}},"y2":{"field":"y2"}}},
{"data":{"values":[{"x":210,"y":1060,"y2":1061},{"x":300,"y":1015,"y2":1103},{"x":300.1,"y":1040,"y2":1080},{"x":585,"y":1040,"y2":1080}]},"mark":{"type":"area","color":"#E60012"},"encoding":{"x":{"field":"x","type":"quantitative","scale":{"domain":[0,2407.5]}},"y":{"field":"y","type":"quantitative","scale":{"domain":[0,2187],"reverse":true}},"y2":{"field":"y2"}}},
{"data":{"values":[{"x":372,"x2":388,"y":1212,"y2":1260}]},"mark":{"type":"rect","color":"white"},"encoding":{"x":{"field":"x","type":"quantitative","scale":{"domain":[0,2407.5]}},"x2":{"field":"x2"},"y":{"field":"y","type":"quantitative","scale":{"domain":[0,2187],"reverse":true}},"y2":{"field":"y2"}}},
{"data":{"values":[{"y":49,"y2":226,"s":0},{"y":226,"y2":361,"s":1},{"y":361,"y2":533,"s":3},{"y":533,"y2":694,"s":5},{"y":694,"y2":855,"s":6},{"y":855,"y2":1005,"s":7},{"y":1005,"y2":1166,"s":8},{"y":1166,"y2":1328,"s":11},{"y":1328,"y2":1478,"s":13}]},"mark":{"type":"rect"},"encoding":{"x":{"datum":1681,"type":"quantitative","scale":{"domain":[0,2407.5]}},"x2":{"datum":1750},"y":{"field":"y","type":"quantitative","scale":{"domain":[0,2187],"reverse":true}},"y2":{"field":"y2"},"color":{"field":"s","type":"ordinal"}}},
{"data":{"values":[{"t":"−51.1～−51.0","y":130},{"t":"−43.5～−42.0","y":447},{"t":"−34.5～−33.0","y":769},{"t":"−25.5～−24.0","y":1086},{"t":"−16.5～−15.0","y":1408}]},"mark":{"type":"text","font":"Liberation Serif","fontSize":108,"align":"left","baseline":"middle","color":"#231815"},"encoding":{"x":{"datum":1790,"type":"quantitative","scale":{"domain":[0,2407.5]}},"y":{"field":"y","type":"quantitative","scale":{"domain":[0,2187],"reverse":true}},"text":{"field":"t"}}},
{"data":{"values":[{"t":"应力/MPa","y":683}]},"mark":{"type":"text","font":"Liberation Serif","fontSize":108,"angle":270,"align":"center","baseline":"middle","color":"#231815"},"encoding":{"x":{"datum":2362,"type":"quantitative","scale":{"domain":[0,2407.5]}},"y":{"field":"y","type":"quantitative","scale":{"domain":[0,2187],"reverse":true}},"text":{"field":"t"}}},
{"data":{"values":[{"t":"(c) 过断层后","y":1822}]},"mark":{"type":"text","font":"Liberation Serif","fontSize":110,"align":"center","baseline":"middle","color":"#231815"},"encoding":{"x":{"datum":953,"type":"quantitative","scale":{"domain":[0,2407.5]}},"y":{"field":"y","type":"quantitative","scale":{"domain":[0,2187],"reverse":true}},"text":{"field":"t"}}}
]},
{"width":2994,"height":933,"layer":[
{"data":{"name":"d"},"mark":{"type":"area","orient":"horizontal","interpolate":"monotone"},"encoding":{"x":{"field":"x","type":"quantitative","scale":{"domain":[0,2407.5]}},"x2":{"field":"x2"},"y":{"field":"y","type":"quantitative","scale":{"domain":[0,1925],"reverse":true}},"detail":{"field":"b"},"color":{"field":"s","type":"ordinal"}}},
{"data":{"values":[{"x":860,"x2":1428,"y":33,"y2":1497}]},"mark":{"type":"rule","color":"#0F7F8A","strokeWidth":3},"encoding":{"x":{"field":"x","type":"quantitative","scale":{"domain":[0,2407.5]}},"x2":{"field":"x2"},"y":{"field":"y","type":"quantitative","scale":{"domain":[0,1925],"reverse":true}},"y2":{"field":"y2"}}},
{"data":{"values":[{"x":100,"y":1105,"y2":1106},{"x":187,"y":1060,"y2":1150},{"x":187.1,"y":1083,"y2":1128},{"x":470,"y":1083,"y2":1128}]},"mark":{"type":"area","color":"#E60012"},"encoding":{"x":{"field":"x","type":"quantitative","scale":{"domain":[0,2407.5]}},"y":{"field":"y","type":"quantitative","scale":{"domain":[0,1925],"reverse":true}},"y2":{"field":"y2"}}},
{"data":{"values":[{"y":44,"y2":205,"s":0},{"y":205,"y2":368,"s":2},{"y":368,"y2":531,"s":5},{"y":531,"y2":689,"s":6},{"y":689,"y2":852,"s":8},{"y":852,"y2":1005,"s":12},{"y":1005,"y2":1168,"s":14},{"y":1168,"y2":1326,"s":16},{"y":1326,"y2":1499,"s":17}]},"mark":{"type":"rect"},"encoding":{"x":{"datum":1679,"type":"quantitative","scale":{"domain":[0,2407.5]}},"x2":{"datum":1752},"y":{"field":"y","type":"quantitative","scale":{"domain":[0,1925],"reverse":true}},"y2":{"field":"y2"},"color":{"field":"s","type":"ordinal"}}},
{"data":{"values":[{"t":"−30.1～−30.0","y":89},{"t":"−25.5～−24.0","y":405},{"t":"−19.5～−18.0","y":726},{"t":"−13.5～−12.0","y":1047},{"t":"−9.0～−8.5","y":1368}]},"mark":{"type":"text","font":"Liberation Serif","fontSize":108,"align":"left","baseline":"middle","color":"#231815"},"encoding":{"x":{"datum":1779,"type":"quantitative","scale":{"domain":[0,2407.5]}},"y":{"field":"y","type":"quantitative","scale":{"domain":[0,1925],"reverse":true}},"text":{"field":"t"}}},
{"data":{"values":[{"t":"应力/MPa","y":797}]},"mark":{"type":"text","font":"Liberation Serif","fontSize":108,"angle":270,"align":"center","baseline":"middle","color":"#231815"},"encoding":{"x":{"datum":2362,"type":"quantitative","scale":{"domain":[0,2407.5]}},"y":{"field":"y","type":"quantitative","scale":{"domain":[0,1925],"reverse":true}},"text":{"field":"t"}}},
{"data":{"values":[{"t":"(d) 开挖结束","y":1788}]},"mark":{"type":"text","font":"Liberation Serif","fontSize":110,"align":"center","baseline":"middle","color":"#231815"},"encoding":{"x":{"datum":959,"type":"quantitative","scale":{"domain":[0,2407.5]}},"y":{"field":"y","type":"quantitative","scale":{"domain":[0,1925],"reverse":true}},"text":{"field":"t"}}}
]}
]}
